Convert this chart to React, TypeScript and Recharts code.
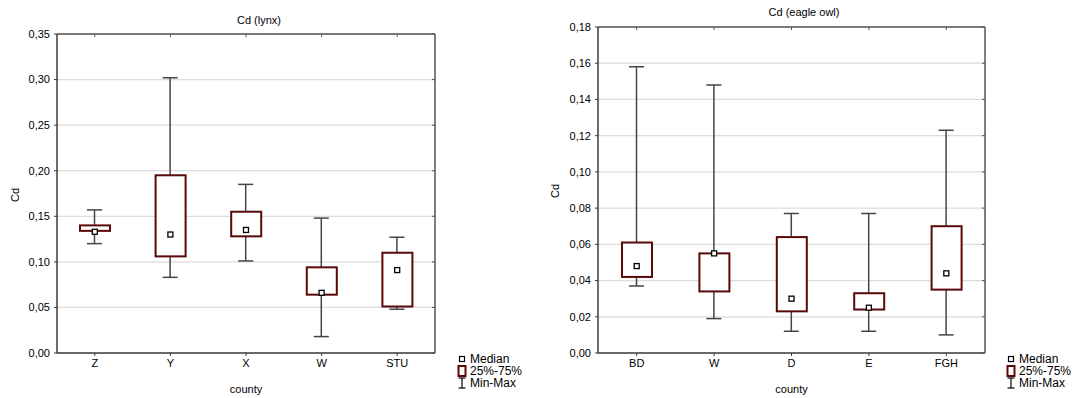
import React from 'react';
import { ComposedChart, Bar, Line, XAxis, YAxis, CartesianGrid, Legend } from 'recharts';

const FONT = '"Liberation Sans", Arial, sans-serif';

// Cd (lynx)
const lynxCounties = ['Z', 'Y', 'X', 'W', 'STU'];
const lynxMin = [0.120, 0.083, 0.101, 0.018, 0.048];
const lynxQ1 = [0.134, 0.106, 0.128, 0.064, 0.051];
const lynxMedian = [0.133, 0.130, 0.135, 0.066, 0.091];
const lynxQ3 = [0.140, 0.195, 0.155, 0.094, 0.110];
const lynxMax = [0.157, 0.302, 0.185, 0.148, 0.127];
const lynxTicks = [0, 0.05, 0.1, 0.15, 0.2, 0.25, 0.3, 0.35];

// Cd (eagle owl)
const owlCounties = ['BD', 'W', 'D', 'E', 'FGH'];
const owlMin = [0.037, 0.019, 0.012, 0.012, 0.010];
const owlQ1 = [0.042, 0.034, 0.023, 0.024, 0.035];
const owlMedian = [0.048, 0.055, 0.030, 0.025, 0.044];
const owlQ3 = [0.061, 0.055, 0.064, 0.033, 0.070];
const owlMax = [0.158, 0.148, 0.077, 0.077, 0.123];
const owlTicks = [0, 0.02, 0.04, 0.06, 0.08, 0.1, 0.12, 0.14, 0.16, 0.18];

const legendLabels = ['Median', '25%-75%', 'Min-Max'];

const buildData = (counties: string[], min: number[], q1: number[], med: number[], q3: number[], max: number[]) =>
  counties.map((county, i) => ({
    county,
    whisker: [min[i], max[i]],
    box: [q1[i], q3[i]],
    median: med[i],
  }));

const lynxData = buildData(lynxCounties, lynxMin, lynxQ1, lynxMedian, lynxQ3, lynxMax);
const owlData = buildData(owlCounties, owlMin, owlQ1, owlMedian, owlQ3, owlMax);

const fmt = (v: number) => v.toFixed(2).replace('.', ',');
const BOX_COLOR = '#5a0808';
const WHISKER_COLOR = '#454545';
const FRAME = '#3c3c3c';

const Whisker = (props: any) => {
  const { x, y, width, height } = props;
  const cx = x + width / 2;
  const top = Math.min(y, y + height);
  const bottom = Math.max(y, y + height);
  return (
    <g stroke={WHISKER_COLOR} strokeWidth={1.5}>
      <line x1={cx} x2={cx} y1={top} y2={bottom} />
      <line x1={x} x2={x + width} y1={top} y2={top} />
      <line x1={x} x2={x + width} y1={bottom} y2={bottom} />
    </g>
  );
};

const Box = (props: any) => {
  const { x, y, width, height } = props;
  const top = Math.min(y, y + height);
  const h = Math.abs(height);
  return <rect x={x} y={top} width={width} height={h} fill="#fff" stroke={BOX_COLOR} strokeWidth={2} />;
};

const MedianDot = (props: any) => {
  const { cx, cy, index } = props;
  if (cx == null || cy == null) return <g key={index} />;
  return <rect key={index} x={cx - 2.5} y={cy - 2.5} width={5} height={5} fill="#fff" stroke="#000" strokeWidth={1.3} />;
};

const BoxLegend = () => {
  const icons = [
    <rect x={2.5} y={3.5} width={5} height={5} fill="#fff" stroke="#000" strokeWidth={1.2} />,
    <rect x={1.5} y={1} width={7} height={10} fill="#fff" stroke={BOX_COLOR} strokeWidth={2} />,
    <g stroke="#000" strokeWidth={1.2}>
      <line x1={5} x2={5} y1={1} y2={11} />
      <line x1={1.5} x2={8.5} y1={1} y2={1} />
      <line x1={1.5} x2={8.5} y1={11} y2={11} />
    </g>,
  ];
  return (
    <div style={{ fontFamily: FONT, fontSize: 12, lineHeight: '12px', color: '#000' }}>
      {legendLabels.map((label, i) => (
        <div key={label} style={{ display: 'flex', alignItems: 'center', height: 12 }}>
          <svg width={10} height={12}>{icons[i]}</svg>
          <span style={{ marginLeft: 3, whiteSpace: 'nowrap' }}>{label}</span>
        </div>
      ))}
    </div>
  );
};

interface PanelProps {
  data: any[];
  ticks: number[];
  yWidth: number;
  top: number;
  right: number;
  yLabelX: number;
  yLabelY: number;
  legendLeft: number;
}

const BoxPanel = ({ data, ticks, yWidth, top, right, yLabelX, yLabelY, legendLeft }: PanelProps) => {
  const maxY = ticks[ticks.length - 1];
  return (
    <ComposedChart width={537} height={398} data={data} margin={{ top, right, bottom: 0, left: 0 }}>
      <CartesianGrid xAxisId="main" yAxisId="main" vertical={false} stroke="#dcdcdc" strokeWidth={1.2} />
      <XAxis
        xAxisId="main"
        dataKey="county"
        height={45}
        tickSize={3}
        tickMargin={3}
        tick={{ fill: '#000', fontSize: 11, fontFamily: FONT }}
        axisLine={{ stroke: FRAME, strokeWidth: 1.5 }}
        tickLine={{ stroke: FRAME }}
        label={{
          content: (p: any) => {
            const vb = p.viewBox;
            return (
              <text x={vb.x + vb.width / 2} y={389} textAnchor="middle" dominantBaseline="central" fontSize={11} fontFamily={FONT} fill="#000">
                county
              </text>
            );
          },
        }}
      />
      <XAxis xAxisId="box" dataKey="county" hide height={0} />
      <XAxis
        xAxisId="top"
        dataKey="county"
        orientation="top"
        mirror
        tickSize={3}
        tickFormatter={() => ''}
        axisLine={{ stroke: '#555', strokeWidth: 1.5 }}
        tickLine={{ stroke: '#555' }}
      />
      <YAxis
        yAxisId="main"
        type="number"
        domain={[0, maxY]}
        ticks={ticks}
        allowDataOverflow
        width={yWidth}
        tickSize={3}
        tickMargin={4}
        tickFormatter={fmt}
        tick={{ fill: '#000', fontSize: 11, fontFamily: FONT }}
        axisLine={{ stroke: FRAME, strokeWidth: 1.5 }}
        tickLine={{ stroke: FRAME }}
        label={{
          content: () => (
            <text
              x={yLabelX}
              y={yLabelY}
              transform={`rotate(-90 ${yLabelX} ${yLabelY})`}
              textAnchor="middle"
              dominantBaseline="central"
              fontSize={11}
              fontFamily={FONT}
              fill="#000"
            >
              Cd
            </text>
          ),
        }}
      />
      <YAxis
        yAxisId="right"
        orientation="right"
        mirror
        type="number"
        domain={[0, maxY]}
        ticks={ticks}
        allowDataOverflow
        tickSize={3}
        tickFormatter={() => ''}
        axisLine={{ stroke: '#555', strokeWidth: 1.5 }}
        tickLine={{ stroke: '#555' }}
      />
      <Bar xAxisId="main" yAxisId="main" dataKey="whisker" barSize={15} shape={Whisker} isAnimationActive={false} legendType="none" />
      <Bar xAxisId="box" yAxisId="main" dataKey="box" barSize={30} shape={Box} isAnimationActive={false} legendType="none" />
      <Line
        xAxisId="main"
        yAxisId="main"
        dataKey="median"
        stroke="none"
        strokeWidth={0}
        dot={MedianDot}
        activeDot={false}
        isAnimationActive={false}
        legendType="none"
      />
      <Legend
        layout="vertical"
        align="center"
        verticalAlign="middle"
        wrapperStyle={{ left: legendLeft, top: 353, width: 80 }}
        content={() => <BoxLegend />}
      />
    </ComposedChart>
  );
};

const titleStyle = (cx: number, cy: number): React.CSSProperties => ({
  position: 'absolute',
  left: cx - 100,
  top: cy - 7,
  width: 200,
  height: 14,
  lineHeight: '14px',
  textAlign: 'center',
  fontFamily: FONT,
  fontSize: 11,
  color: '#000',
});

export default function App() {
  return (
    <div style={{ position: 'absolute', left: 0, top: 0, width: 1074, height: 398, background: '#fff' }}>
      <div style={{ position: 'absolute', left: 0, top: 0 }}>
        <BoxPanel data={lynxData} ticks={lynxTicks} yWidth={57} top={34} right={102} yLabelX={15} yLabelY={195} legendLeft={457} />
      </div>
      <div style={{ position: 'absolute', left: 537, top: 0 }}>
        <BoxPanel data={owlData} ticks={owlTicks} yWidth={61} top={27} right={89} yLabelX={18} yLabelY={191} legendLeft={469} />
      </div>
      <div style={titleStyle(259, 19.5)}>Cd (lynx)</div>
      <div style={titleStyle(804, 11.7)}>Cd (eagle owl)</div>
    </div>
  );
}
